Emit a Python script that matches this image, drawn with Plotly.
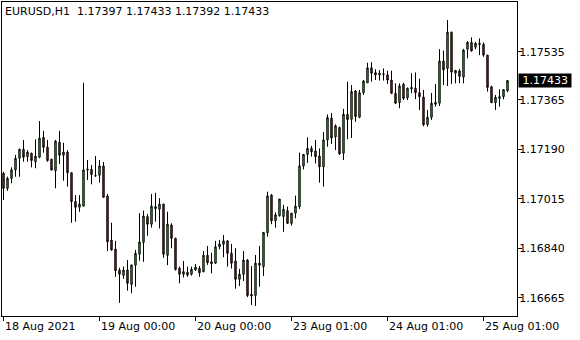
import plotly.graph_objects as go

symbol_title = "EURUSD,H1\u00a0\u00a01.17397 1.17433 1.17392 1.17433"

opens = [1.17105, 1.17052, 1.17087, 1.17117, 1.17158, 1.17190, 1.17164, 1.17176, 1.17146, 1.17162,
         1.17232, 1.17197, 1.17155, 1.17114, 1.17215, 1.17169, 1.17180, 1.17107, 1.17005, 1.16985,
         1.16989, 1.17117, 1.17119, 1.17097, 1.17098, 1.17131, 1.17025, 1.16869, 1.16837, 1.16763,
         1.16744, 1.16763, 1.16712, 1.16780, 1.16819, 1.16861, 1.16952, 1.16925, 1.16980, 1.16978,
         1.16996, 1.16815, 1.16922, 1.16875, 1.16769, 1.16748, 1.16755, 1.16748, 1.16763, 1.16769,
         1.16757, 1.16815, 1.16792, 1.16787, 1.16845, 1.16854, 1.16866, 1.16822, 1.16795, 1.16730,
         1.16748, 1.16798, 1.16677, 1.16673, 1.16787, 1.16775, 1.16895, 1.17028, 1.16937, 1.16955,
         1.16952, 1.16973, 1.16928, 1.16964, 1.16987, 1.17131, 1.17172, 1.17193, 1.17184, 1.17166,
         1.17128, 1.17223, 1.17300, 1.17234, 1.17267, 1.17176, 1.17314, 1.17296, 1.17396, 1.17303,
         1.17390, 1.17425, 1.17478, 1.17461, 1.17453, 1.17457, 1.17453, 1.17435, 1.17388, 1.17355,
         1.17420, 1.17372, 1.17409, 1.17406, 1.17390, 1.17375, 1.17277, 1.17303, 1.17349, 1.17353,
         1.17502, 1.17476, 1.17604, 1.17459, 1.17467, 1.17445, 1.17544, 1.17568, 1.17551, 1.17565,
         1.17561, 1.17523, 1.17411, 1.17355, 1.17370, 1.17376, 1.17397]

highs = [1.17110, 1.17093, 1.17126, 1.17170, 1.17192, 1.17223, 1.17187, 1.17178, 1.17225, 1.17290,
         1.17255, 1.17223, 1.17156, 1.17223, 1.17255, 1.17213, 1.17187, 1.17108, 1.17028, 1.17028,
         1.17425, 1.17152, 1.17134, 1.17166, 1.17152, 1.17145, 1.17032, 1.16930, 1.16866, 1.16771,
         1.16775, 1.16798, 1.16781, 1.16834, 1.16964, 1.16973, 1.16961, 1.17032, 1.17036, 1.17017,
         1.16997, 1.16969, 1.16928, 1.16877, 1.16775, 1.16795, 1.16775, 1.16775, 1.16784, 1.16777,
         1.16830, 1.16848, 1.16824, 1.16866, 1.16869, 1.16887, 1.16869, 1.16855, 1.16840, 1.16767,
         1.16830, 1.16802, 1.16777, 1.16816, 1.16848, 1.16896, 1.17040, 1.17032, 1.16967, 1.17014,
         1.16993, 1.16987, 1.16964, 1.17026, 1.17178, 1.17172, 1.17232, 1.17202, 1.17223, 1.17193,
         1.17251, 1.17313, 1.17318, 1.17278, 1.17270, 1.17333, 1.17429, 1.17417, 1.17400, 1.17400,
         1.17435, 1.17496, 1.17498, 1.17473, 1.17470, 1.17476, 1.17468, 1.17468, 1.17423, 1.17423,
         1.17425, 1.17408, 1.17459, 1.17462, 1.17440, 1.17400, 1.17329, 1.17389, 1.17421, 1.17544,
         1.17539, 1.17647, 1.17606, 1.17470, 1.17474, 1.17545, 1.17573, 1.17586, 1.17570, 1.17582,
         1.17568, 1.17524, 1.17415, 1.17382, 1.17402, 1.17402, 1.17433]

lows = [1.17011, 1.17043, 1.17070, 1.17093, 1.17093, 1.17146, 1.17146, 1.17126, 1.17123, 1.17158,
        1.17178, 1.17146, 1.17115, 1.17052, 1.17138, 1.17079, 1.17058, 1.16930, 1.16934, 1.16969,
        1.16987, 1.17081, 1.17066, 1.17093, 1.17072, 1.17020, 1.16830, 1.16831, 1.16739, 1.16647,
        1.16732, 1.16690, 1.16681, 1.16704, 1.16796, 1.16792, 1.16884, 1.16913, 1.16934, 1.16910,
        1.16806, 1.16780, 1.16840, 1.16761, 1.16716, 1.16737, 1.16739, 1.16743, 1.16761, 1.16739,
        1.16755, 1.16781, 1.16751, 1.16784, 1.16836, 1.16808, 1.16775, 1.16768, 1.16697, 1.16706,
        1.16724, 1.16667, 1.16639, 1.16636, 1.16704, 1.16742, 1.16881, 1.16925, 1.16913, 1.16952,
        1.16898, 1.16926, 1.16920, 1.16946, 1.16979, 1.17119, 1.17142, 1.17164, 1.17140, 1.17072,
        1.17058, 1.17199, 1.17209, 1.17187, 1.17170, 1.17152, 1.17226, 1.17230, 1.17287, 1.17300,
        1.17382, 1.17425, 1.17429, 1.17435, 1.17433, 1.17433, 1.17421, 1.17385, 1.17350, 1.17335,
        1.17364, 1.17364, 1.17388, 1.17367, 1.17329, 1.17271, 1.17270, 1.17294, 1.17341, 1.17343,
        1.17417, 1.17414, 1.17421, 1.17423, 1.17424, 1.17423, 1.17512, 1.17535, 1.17544, 1.17523,
        1.17517, 1.17394, 1.17353, 1.17329, 1.17341, 1.17367, 1.17392]

closes = [1.17052, 1.17087, 1.17117, 1.17158, 1.17190, 1.17162, 1.17180, 1.17150, 1.17166, 1.17229,
          1.17197, 1.17150, 1.17117, 1.17219, 1.17169, 1.17180, 1.17107, 1.17005, 1.16985, 1.16996,
          1.17117, 1.17120, 1.17101, 1.17096, 1.17131, 1.17020, 1.16863, 1.16834, 1.16761, 1.16748,
          1.16763, 1.16716, 1.16781, 1.16822, 1.16862, 1.16954, 1.16925, 1.16989, 1.16987, 1.16996,
          1.16819, 1.16925, 1.16875, 1.16765, 1.16748, 1.16757, 1.16745, 1.16765, 1.16773, 1.16753,
          1.16815, 1.16789, 1.16785, 1.16845, 1.16855, 1.16866, 1.16822, 1.16787, 1.16730, 1.16748,
          1.16798, 1.16673, 1.16671, 1.16787, 1.16780, 1.16896, 1.17025, 1.16937, 1.16958, 1.17014,
          1.16978, 1.16928, 1.16964, 1.16989, 1.17131, 1.17172, 1.17193, 1.17181, 1.17164, 1.17128,
          1.17223, 1.17302, 1.17230, 1.17273, 1.17174, 1.17314, 1.17295, 1.17394, 1.17306, 1.17390,
          1.17431, 1.17478, 1.17459, 1.17453, 1.17459, 1.17455, 1.17435, 1.17388, 1.17353, 1.17414,
          1.17370, 1.17406, 1.17404, 1.17390, 1.17376, 1.17277, 1.17303, 1.17353, 1.17356, 1.17502,
          1.17471, 1.17604, 1.17463, 1.17469, 1.17448, 1.17541, 1.17568, 1.17538, 1.17565, 1.17561,
          1.17523, 1.17409, 1.17355, 1.17374, 1.17376, 1.17401, 1.17433]

bar_index = list(range(len(opens)))

time_tick_bars = [0, 24, 48, 72, 96, 120]
time_tick_labels = ["18 Aug 2021", "19 Aug 00:00", "20 Aug 00:00",
                    "23 Aug 01:00", "24 Aug 01:00", "25 Aug 01:00"]

price_ticks = [1.16665, 1.16840, 1.17015, 1.17190, 1.17365, 1.17535]
price_tick_labels = ["1.16665", "1.16840", "1.17015", "1.17190", "1.17365", "1.17535"]

last_price = 1.17433
last_price_label = "1.17433"

FONT = dict(family="DejaVu Sans", size=11, color="black")

fig = go.Figure(go.Candlestick(
    x=bar_index, open=opens, high=highs, low=lows, close=closes,
    increasing=dict(fillcolor="#00FF00", line=dict(color="black", width=1)),
    decreasing=dict(fillcolor="#FF0000", line=dict(color="black", width=1)),
    whiskerwidth=0, showlegend=False, hoverinfo="skip",
))

annotations = []
for b, lab in zip(time_tick_bars, time_tick_labels):
    annotations.append(dict(x=b, xref="x", y=0, yref="paper", yanchor="top", xanchor="left",
                            yshift=-2, xshift=-1, text=lab, showarrow=False, font=FONT))
annotations.append(dict(x=0, xref="paper", y=1, yref="paper", xanchor="left", yanchor="top",
                        xshift=1, yshift=-1, text=symbol_title, showarrow=False, font=FONT))
annotations.append(dict(x=1, xref="paper", y=last_price, yref="y", xanchor="left", yanchor="middle",
                        xshift=1, text="\u00a0" + last_price_label + "\u00a0", showarrow=False,
                        bgcolor="black", borderpad=0,
                        font=dict(family="DejaVu Sans", size=11, color="white")))

fig.update_layout(
    width=580, height=340,
    margin=dict(l=2, r=63, t=2, b=24),
    paper_bgcolor="white", plot_bgcolor="white",
    boxgap=0.5,
    annotations=annotations,
    xaxis=dict(range=[-0.375, 128.375], showgrid=False, zeroline=False,
               showline=True, mirror=True, linecolor="black", linewidth=1,
               ticks="outside", ticklen=4, tickcolor="black", tickwidth=1,
               tickvals=time_tick_bars, showticklabels=False,
               rangeslider=dict(visible=False), fixedrange=True),
    yaxis=dict(side="right", range=[1.166003, 1.177109], showgrid=False, zeroline=False,
               showline=True, mirror=True, linecolor="black", linewidth=1,
               ticks="outside", ticklen=4, tickcolor="black", tickwidth=1,
               tickvals=price_ticks, ticktext=price_tick_labels, tickfont=FONT,
               ticklabelstandoff=-5, fixedrange=True),
)

fig.write_html("out.html")
